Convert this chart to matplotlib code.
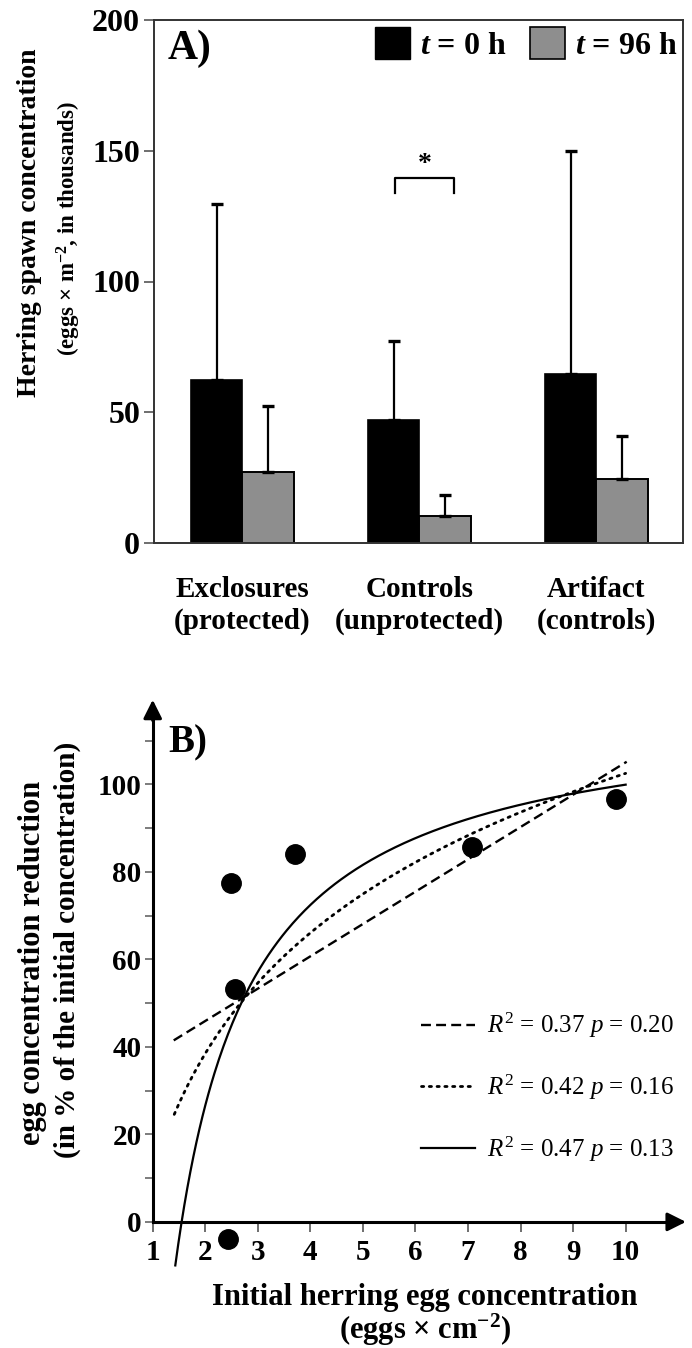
import numpy as np
import matplotlib
matplotlib.use("Agg")
import matplotlib.pyplot as plt
from matplotlib.patches import Patch

plt.rcParams['font.family'] = ['Liberation Serif', 'DejaVu Serif']
plt.rcParams['font.weight'] = 'bold'
plt.rcParams['mathtext.fontset'] = 'custom'
plt.rcParams['mathtext.rm'] = 'Liberation Serif:normal'
plt.rcParams['mathtext.it'] = 'Liberation Serif:italic:normal'
plt.rcParams['mathtext.bf'] = 'Liberation Serif:bold'
plt.rcParams['mathtext.bfit'] = 'Liberation Serif:italic:bold'

# panel A: herring spawn concentration (thousands of eggs per m2)
groups = ["Exclosures\n(protected)", "Controls\n(unprotected)", "Artifact\n(controls)"]
mean_t0 = [62.3, 46.9, 64.7]
upper_t0 = [129.6, 77.4, 150.0]
mean_t96 = [27.0, 10.4, 24.6]
upper_t96 = [52.2, 18.5, 41.1]
sig_bracket = [133.8, 139.6]  # leg end, bar top

# panel B: egg concentration reduction vs initial concentration
egg_init = [2.49, 3.71, 2.56, 7.08, 9.81, 2.43]
egg_red = [77.4, 84.1, 53.2, 85.6, 96.7, -3.8]
# fitted curves
lin_coef = [31.15, 7.39]      # a + b*x
log_coef = [10.9, 39.8]       # a + b*ln(x)
hyp_coef = [118.3, 183.4]     # a - b/x
fit_labels = [r'$R^2$ = 0.37 $p$ = 0.20',
              r'$R^2$ = 0.42 $p$ = 0.16',
              r'$R^2$ = 0.47 $p$ = 0.13']

W, H = 692, 1348
fig = plt.figure(figsize=(W / 100, H / 100), dpi=100)

# ---------------- panel A ----------------
ax1 = fig.add_axes([154 / W, 1 - 543 / H, 529 / W, 523 / H])
x = np.arange(len(groups))
bw = 0.29
err0 = np.array(upper_t0) - np.array(mean_t0)
err96 = np.array(upper_t96) - np.array(mean_t96)
ekw = dict(elinewidth=1.6, capthick=2.4, ecolor='black')
ax1.bar(x - bw / 2, mean_t0, bw, color='black', edgecolor='black', lw=1.2,
        yerr=[np.zeros(3), err0], capsize=4.5, error_kw=ekw, zorder=2)
ax1.bar(x + bw / 2, mean_t96, bw, color='#8e8e8e', edgecolor='black', lw=1.4,
        yerr=[np.zeros(3), err96], capsize=4.5, error_kw=ekw, zorder=2)

bx0, bx1 = 1 - 0.136, 1 + 0.193
ax1.plot([bx0, bx0, bx1, bx1], [sig_bracket[0], sig_bracket[1], sig_bracket[1], sig_bracket[0]],
         color='black', lw=1.6)
ax1.text((bx0 + bx1) / 2, sig_bracket[1] + 0.5, '*', ha='center', va='bottom', fontsize=20)

ax1.set_xlim(-0.5, 2.49)
ax1.set_ylim(0, 200)
ax1.set_yticks([0, 50, 100, 150, 200])
ax1.tick_params(axis='y', direction='out', length=7, width=1.2, color='#555555',
                labelsize=23, pad=3)
ax1.set_xticks(x)
ax1.set_xticklabels(groups, fontsize=21, linespacing=1.2)
ax1.tick_params(axis='x', length=0, pad=24)
for s in ax1.spines.values():
    s.set_linewidth(1.4)
    s.set_color('#333333')

ax1.text(168 / W, 1 - 49 / H, 'A)', transform=fig.transFigure, fontsize=30,
         ha='left', va='center')
handles = [Patch(facecolor='black', edgecolor='black'),
           Patch(facecolor='#8e8e8e', edgecolor='black', lw=1.2)]
ax1.legend(handles, [r'$\mathbfit{t}$ = 0 h', r'$\mathbfit{t}$ = 96 h'],
           ncol=2, loc='upper right', bbox_to_anchor=(677 / W, 1 - 27 / H),
           bbox_transform=fig.transFigure, frameon=False, fontsize=23,
           handlelength=1.1, handleheight=1.15, handletextpad=0.3,
           columnspacing=0.75, borderpad=0, borderaxespad=0)

fig.text(30 / W, 1 - 223 / H, 'Herring spawn concentration', rotation=90,
         ha='center', va='center', fontsize=20)
fig.text(69 / W, 1 - 229 / H, r'(eggs × m$^{\mathbf{-2}}$, in thousands)', rotation=90,
         ha='center', va='center', fontsize=16.5)

# ---------------- panel B ----------------
ax2 = fig.add_axes([152.7 / W, 1 - 1270 / H, 536 / W, 573 / H])
ax2.set_xlim(1, 11.2)
ax2.set_ylim(-11, 120)

xl = np.linspace(1.40, 10.02, 50)
ax2.plot(xl, lin_coef[0] + lin_coef[1] * xl, color='black', lw=1.7,
         dashes=(4.2, 2.2), label=fit_labels[0])
xg = np.linspace(1.41, 10, 200)
ax2.plot(xg, log_coef[0] + log_coef[1] * np.log(xg), color='black', lw=2.0,
         linestyle=(0, (0.8, 2.0)), dash_capstyle='round', label=fit_labels[1])
xh = np.linspace(1.43, 10, 300)
ax2.plot(xh, hyp_coef[0] - hyp_coef[1] / xh, color='black', lw=1.6,
         label=fit_labels[2])
ax2.plot(egg_init, egg_red, 'o', color='black', ms=14, clip_on=False, zorder=3)

for s in ['top', 'right']:
    ax2.spines[s].set_visible(False)
ax2.spines['bottom'].set_position(('data', 0))
ax2.spines['left'].set_linewidth(2.2)
ax2.spines['bottom'].set_linewidth(2.2)
ax2.spines['left'].set_bounds(0, 116)
ax2.spines['bottom'].set_bounds(1, 10.9)
ax2.annotate('', xy=(1, 120), xytext=(1, 114), xycoords='data',
             arrowprops=dict(arrowstyle='-|>', mutation_scale=28, color='black', lw=2.2),
             annotation_clip=False)
ax2.annotate('', xy=(11.2, 0), xytext=(10.8, 0), xycoords='data',
             arrowprops=dict(arrowstyle='-|>', mutation_scale=28, color='black', lw=2.2),
             annotation_clip=False)

ax2.set_xticks(range(1, 11))
ax2.tick_params(axis='x', direction='out', length=7, width=1.2, color='#555555',
                labelsize=21, pad=5)
ax2.set_yticks([0, 20, 40, 60, 80, 100])
ax2.set_yticks([10, 30, 50, 70, 90, 110], minor=True)
ax2.tick_params(axis='y', which='both', direction='out', length=6, width=1.2,
                color='#666666', labelsize=21, pad=2)

ax2.text(168 / W, 1 - 743 / H, 'B)', transform=fig.transFigure, fontsize=28,
         ha='left', va='center')
ax2.legend(loc='upper left', bbox_to_anchor=(421 / W, 1 - 1011 / H),
           bbox_transform=fig.transFigure, frameon=False,
           prop={'weight': 'normal', 'size': 18}, handlelength=2.15,
           handletextpad=0.5, labelspacing=1.3, borderpad=0, borderaxespad=0)

fig.text(425 / W, 1 - 1297 / H, 'Initial herring egg concentration',
         ha='center', va='center', fontsize=22)
fig.text(425 / W, 1 - 1330 / H, r'(eggs × cm$^{\mathbf{-2}}$)',
         ha='center', va='center', fontsize=22)
fig.text(33 / W, 1 - 963 / H, 'egg concentration reduction', rotation=90,
         ha='center', va='center', fontsize=22)
fig.text(67 / W, 1 - 950 / H, '(in % of the initial concentration)', rotation=90,
         ha='center', va='center', fontsize=21)

fig.savefig('out.png', dpi=100)
